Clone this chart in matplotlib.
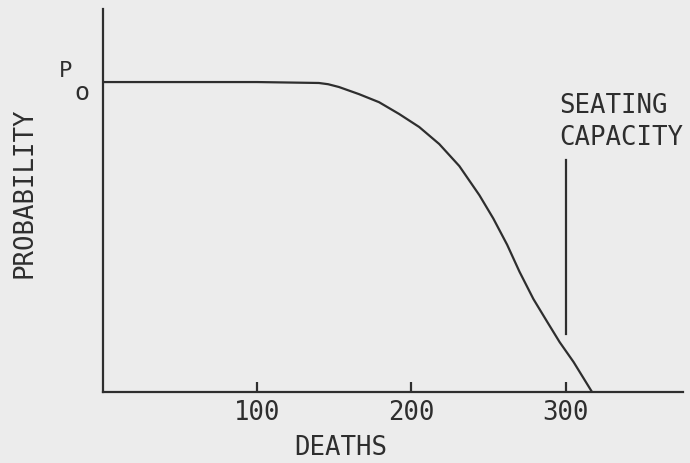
import matplotlib.pyplot as plt

# curve (P0 taken as 1.0)
deaths = [0, 100, 140, 146, 153, 166, 179, 192, 205, 218, 231, 244, 253, 262, 270, 279, 288, 296, 305, 317]
prob = [1.0, 1.0, 0.997, 0.993, 0.984, 0.961, 0.935, 0.897, 0.855, 0.80, 0.729, 0.635, 0.56, 0.475, 0.388, 0.30, 0.226, 0.161, 0.097, 0.0]

seat_x = [300, 300]
seat_y = [0.187, 0.75]

xticks = [100, 200, 300]
xlabels = ["100", "200", "300"]

ink = "#2e2e2e"
paper = "#ececec"
font = "DejaVu Sans Mono"
fs = 18.5

fig = plt.figure(figsize=(6.9, 4.64), dpi=100, facecolor=paper)
ax = fig.add_axes([0.149, 0.153, 0.841, 0.825])
ax.set_facecolor(paper)

ax.plot(deaths, prob, color=ink, lw=1.6)
ax.plot(seat_x, seat_y, color=ink, lw=1.6)

ax.set_xlim(0, 376)
ax.set_ylim(0, 1.235)

for s in ["top", "right"]:
    ax.spines[s].set_visible(False)
for s in ["left", "bottom"]:
    ax.spines[s].set_color(ink)
    ax.spines[s].set_linewidth(1.6)

ax.set_xticks(xticks)
ax.set_xticklabels(xlabels, fontfamily=font, fontsize=fs, color=ink)
ax.tick_params(axis="x", direction="in", length=7, width=1.6, color=ink, pad=5)
ax.set_yticks([])

# axis titles placed by hand, as on the scan
ax.text(154, -0.2, "DEATHS", fontfamily=font, fontsize=fs, color=ink,
        ha="center", va="baseline", clip_on=False)
ax.text(-50.6, 0.645, "PROBABILITY", fontfamily=font, fontsize=fs, color=ink,
        ha="center", va="center", rotation=90, clip_on=False)

ax.text(-28.6, 1.019, "P", fontfamily=font, fontsize=16, color=ink,
        ha="left", va="baseline", clip_on=False)
ax.text(-18.2, 0.945, "o", fontfamily=font, fontsize=18, color=ink,
        ha="left", va="baseline", clip_on=False)

ax.text(296, 0.903, "SEATING", fontfamily=font, fontsize=fs, color=ink,
        ha="left", va="baseline")
ax.text(296, 0.80, "CAPACITY", fontfamily=font, fontsize=fs, color=ink,
        ha="left", va="baseline")

fig.savefig("out.png", dpi=100, facecolor=paper)
